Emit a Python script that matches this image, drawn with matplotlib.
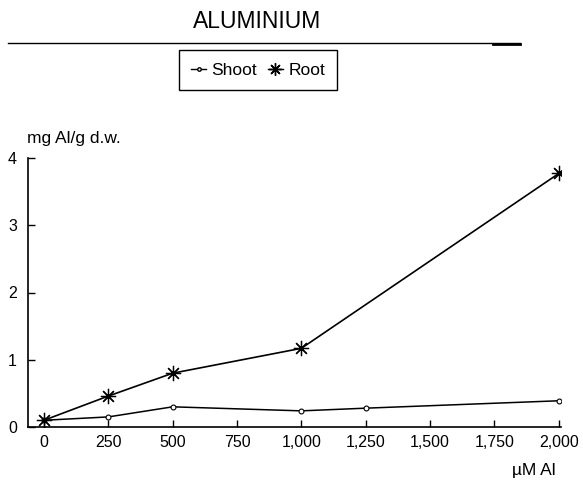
import matplotlib
matplotlib.use("Agg")
import matplotlib.pyplot as plt
from matplotlib.lines import Line2D

plt.rcParams['font.family'] = ['Liberation Sans', 'DejaVu Sans']

conc_shoot = [0, 250, 500, 1000, 1250, 2000]
shoot = [0.10, 0.15, 0.30, 0.24, 0.28, 0.39]
conc_root = [0, 250, 500, 1000, 2000]
root = [0.10, 0.46, 0.80, 1.17, 3.77]
xticks = [0, 250, 500, 750, 1000, 1250, 1500, 1750, 2000]
xticklabels = ["0", "250", "500", "750", "1,000", "1,250", "1,500", "1,750", "2,000"]
yticks = [0, 1, 2, 3, 4]

fig = plt.figure(figsize=(5.83, 4.82), dpi=100)
ax = fig.add_axes([0.048, 1 - 427 / 482, 0.914, (427 - 158) / 482])

ax.plot(conc_shoot, shoot, color='black', lw=1.1, marker='o', ms=3.5,
        mfc='white', mec='black', mew=0.8, label='Shoot')
ax.plot(conc_root, root, color='black', lw=1.2, marker=(8, 2, 0), ms=11,
        mew=0.9, label='Root')

ax.set_xlim(-62, 2008)
ax.set_ylim(0, 4)
ax.set_xticks(xticks)
ax.set_xticklabels(xticklabels)
ax.set_yticks(yticks)
for s in ['top', 'right']:
    ax.spines[s].set_visible(False)
for s in ['left', 'bottom']:
    ax.spines[s].set_linewidth(1.2)
ax.tick_params(direction='in', length=5, width=1, labelsize=11.5, pad=6)
ax.tick_params(axis='y', pad=8)

fig.text(257 / 583, 1 - 22 / 482, "ALUMINIUM", ha='center', va='center', fontsize=16.5)
fig.add_artist(Line2D([0.014, 0.892], [1 - 43 / 482, 1 - 43 / 482], color='black', lw=1,
                      transform=fig.transFigure))
fig.add_artist(Line2D([0.846, 0.892], [1 - 43.5 / 482, 1 - 43.5 / 482], color='black', lw=2,
                      transform=fig.transFigure))

handles = [Line2D([], [], color='black', lw=1, marker='o', ms=2.5, mfc='white', mec='black'),
           Line2D([], [], color='black', lw=1, marker=(8, 2, 0), ms=9)]
leg = fig.legend(handles, ['Shoot', 'Root'], loc='center',
                 bbox_to_anchor=(258 / 583, 1 - 70 / 482), ncol=2,
                 handlelength=0.9, handletextpad=0.3, columnspacing=0.6,
                 fontsize=12.5, fancybox=False, edgecolor='black', framealpha=1,
                 borderpad=0.7)
leg.get_frame().set_linewidth(1)

fig.text(27 / 583, 1 - 138 / 482, "mg Al/g d.w.", ha='left', va='center', fontsize=12.5)
fig.text(512 / 583, 1 - 470 / 482, "µM Al", ha='left', va='center', fontsize=12.5)

fig.savefig("out.png", dpi=100)
